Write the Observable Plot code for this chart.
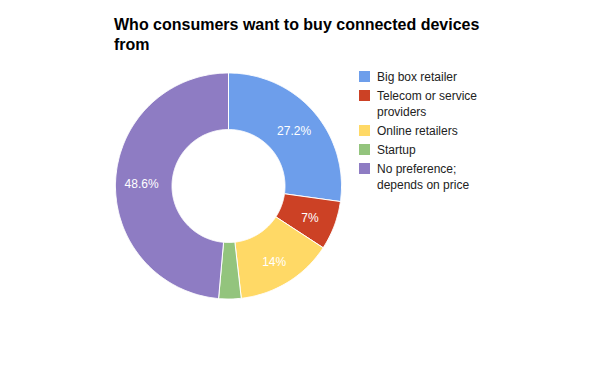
<!DOCTYPE html>
<html>
<head>
<meta charset="utf-8">
<script src="https://cdn.jsdelivr.net/npm/d3@7"></script>
<script src="https://cdn.jsdelivr.net/npm/@observablehq/plot@0.6"></script>
<style>
  html, body { margin: 0; padding: 0; background: #fff; }
  #wrap { position: relative; width: 596px; height: 371px; font-family: "Liberation Sans", Arial, sans-serif; }
  #chart { position: absolute; left: 0; top: 0; }
  #title { position: absolute; left: 114px; top: 15px; width: 400px; font-size: 16px; font-weight: bold; line-height: 20px; color: #000; }
  #legend { position: absolute; left: 359px; top: 69px; font-size: 12px; color: #222; }
  .item { display: flex; align-items: flex-start; margin-bottom: 3px; line-height: 16px; }
  .sw { width: 11px; height: 11px; margin-top: 2px; margin-right: 7px; flex: none; }
</style>
</head>
<body>
<div id="wrap">
  <div id="chart"></div>
  <div id="title">Who consumers want to buy connected devices from</div>
  <div id="legend"></div>
</div>
<script>
const categories = ["Big box retailer", "Telecom or service providers", "Online retailers", "Startup", "No preference; depends on price"];
const legendLines = [["Big box retailer"], ["Telecom or service", "providers"], ["Online retailers"], ["Startup"], ["No preference;", "depends on price"]];
const values = [27.2, 7, 14, 3.2, 48.6];
const colors = ["#6d9eeb", "#cc4125", "#ffd966", "#93c47d", "#8e7cc3"];

const innerR = 0.5, outerR = 1;
const total = d3.sum(values);
const slices = [];
let acc = 0;
values.forEach((v, i) => {
  const a0 = acc / total * 2 * Math.PI;
  acc += v;
  const a1 = acc / total * 2 * Math.PI;
  slices.push({category: categories[i], value: v, a0, a1});
});

// polygon outlines for each slice (outer arc, then inner arc back)
const pts = [];
for (const s of slices) {
  const n = Math.max(4, Math.ceil((s.a1 - s.a0) / 0.01));
  const ring = [];
  for (let k = 0; k <= n; k++) {
    const a = s.a0 + (s.a1 - s.a0) * k / n;
    ring.push([outerR * Math.sin(a), outerR * Math.cos(a)]);
  }
  for (let k = n; k >= 0; k--) {
    const a = s.a0 + (s.a1 - s.a0) * k / n;
    ring.push([innerR * Math.sin(a), innerR * Math.cos(a)]);
  }
  ring.push(ring[0]);
  ring.forEach(([x, y]) => pts.push({category: s.category, x, y}));
}

const labelR = 0.77;
const labels = slices.filter(s => s.value >= 5).map(s => {
  const m = (s.a0 + s.a1) / 2;
  return {x: labelR * Math.sin(m), y: labelR * Math.cos(m), text: `${s.value}%`};
});

const plot = Plot.plot({
  width: 596,
  height: 371,
  marginLeft: 115,
  marginRight: 255,
  marginTop: 72.5,
  marginBottom: 72.5,
  x: {domain: [-1, 1], axis: null},
  y: {domain: [-1, 1], axis: null},
  color: {domain: categories, range: colors},
  style: {fontFamily: "Liberation Sans, Arial, sans-serif", background: "#fff"},
  marks: [
    Plot.line(pts, {x: "x", y: "y", z: "category", fill: "category", stroke: "#fff", strokeWidth: 1, curve: "linear"}),
    Plot.text(labels, {x: "x", y: "y", text: "text", fill: "#fff", fontSize: 12, dy: 2})
  ]
});
document.getElementById("chart").appendChild(plot);

const legend = document.getElementById("legend");
legendLines.forEach((lines, i) => {
  const item = document.createElement("div");
  item.className = "item";
  const sw = document.createElement("div");
  sw.className = "sw";
  sw.style.background = colors[i];
  const t = document.createElement("div");
  t.innerHTML = lines.join("<br>");
  item.appendChild(sw);
  item.appendChild(t);
  legend.appendChild(item);
});
</script>
</body>
</html>
